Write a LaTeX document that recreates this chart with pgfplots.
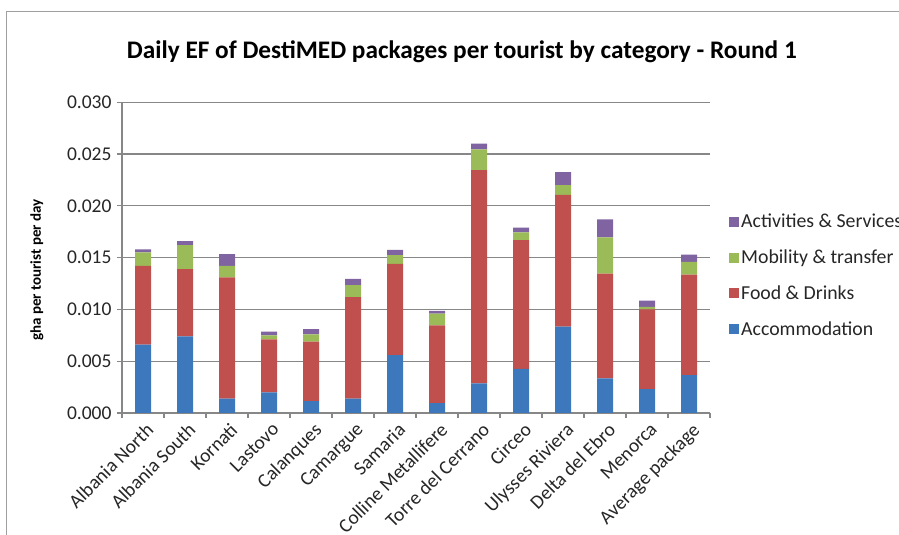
\documentclass[border=0pt]{standalone}
\usepackage{pgfplots}
\pgfplotsset{compat=1.18}
\usepackage{pgfplotstable}
\usepackage{fontspec}
\setmainfont{Carlito}

\definecolor{accom}{HTML}{3E78BC}
\definecolor{food}{HTML}{C0504D}
\definecolor{mobil}{HTML}{9BBB59}
\definecolor{activ}{HTML}{8064A2}
\definecolor{gridgray}{HTML}{878787}

% daily EF per tourist (gha), one row per package
\pgfplotstableread{
x  acc      food     mob      act
0  0.00660  0.00760  0.00130  0.00030
1  0.00740  0.00650  0.00230  0.00040
2  0.00140  0.01170  0.00110  0.00115
3  0.00200  0.00510  0.00040  0.00035
4  0.00115  0.00575  0.00070  0.00050
5  0.00140  0.00980  0.00115  0.00060
6  0.00560  0.00880  0.00085  0.00050
7  0.00095  0.00750  0.00115  0.00025
8  0.00285  0.02060  0.00200  0.00055
9  0.00425  0.01245  0.00075  0.00045
10 0.00835  0.01270  0.00095  0.00125
11 0.00335  0.01010  0.00350  0.00175
12 0.00230  0.00770  0.00025  0.00060
13 0.00365  0.00970  0.00125  0.00070
}\efdata

\begin{document}
\begin{tikzpicture}
\path[use as bounding box] (0,0) rectangle (899bp,535bp);
\draw[gridgray!80, line width=1bp] (6bp,-20bp) rectangle (930bp,523bp);

\begin{axis}[
    at={(122bp,122bp)}, anchor=south west,
    scale only axis,
    width=588bp, height=310.7bp,
    ybar stacked,
    bar width=16bp,
    xmin=-0.5, xmax=13.5,
    ymin=0, ymax=0.030,
    axis lines*=left,
    axis line style={gridgray, line width=1.2bp},
    ytick={0,0.005,...,0.031},
    ymajorgrids,
    major grid style={gridgray, line width=1.2bp},
    scaled y ticks=false,
    yticklabel style={xshift=-2bp, /pgf/number format/.cd, fixed, fixed zerofill, precision=3, assume math mode=true},
    tick align=outside,
    major tick length=5bp,
    tick style={gridgray, line width=1.2bp},
    xtick={0,...,13},
    x tick style={draw=none},
    xticklabels={Albania North, Albania South, Kornati, Lastovo, Calanques, Camargue, Samaria, Colline Metallifere, Torre del Cerrano, Circeo, Ulysses Riviera, Delta del Ebro, Menorca, Average package},
    xticklabel style={rotate=45, anchor=north east, inner sep=1bp, yshift=-3bp},
    extra x ticks={-0.5,0.5,...,13.5},
    extra x tick labels={},
    extra x tick style={grid=none, x tick style={draw=gridgray, line width=1.2bp}},
    ticklabel style={font=\fontsize{19.5bp}{23bp}\selectfont, text=black!85},
    ylabel={gha per tourist per day},
    ylabel style={at={(axis description cs:-0.1446,0.46)}, anchor=center, rotate=0,
        font=\fontsize{15bp}{18bp}\selectfont\bfseries, text=black},
    title={Daily EF of DestiMED packages per tourist by category - Round 1},
    title style={at={(axis description cs:0.578,1.142)}, anchor=center,
        font=\fontsize{25.3bp}{30bp}\selectfont\bfseries, text=black},
    reverse legend,
    legend cell align=left,
    legend image code/.code={\fill[#1] (0bp,-5bp) rectangle (10bp,5bp);},
    legend style={draw=none, fill=none, at={(axis description cs:1.0323,0.4426)}, anchor=west,
        inner sep=0pt, row sep=16.5bp,
        font=\fontsize{19.8bp}{23bp}\selectfont, text=black!85},
]
\addplot[fill=accom, draw=none] table[x=x, y=acc] {\efdata};
\addplot[fill=food, draw=none] table[x=x, y=food] {\efdata};
\addplot[fill=mobil, draw=none] table[x=x, y=mob] {\efdata};
\addplot[fill=activ, draw=none] table[x=x, y=act] {\efdata};
\legend{Accommodation, Food \& Drinks, Mobility \& transfer, Activities \& Services}
\end{axis}
\end{tikzpicture}
\end{document}
